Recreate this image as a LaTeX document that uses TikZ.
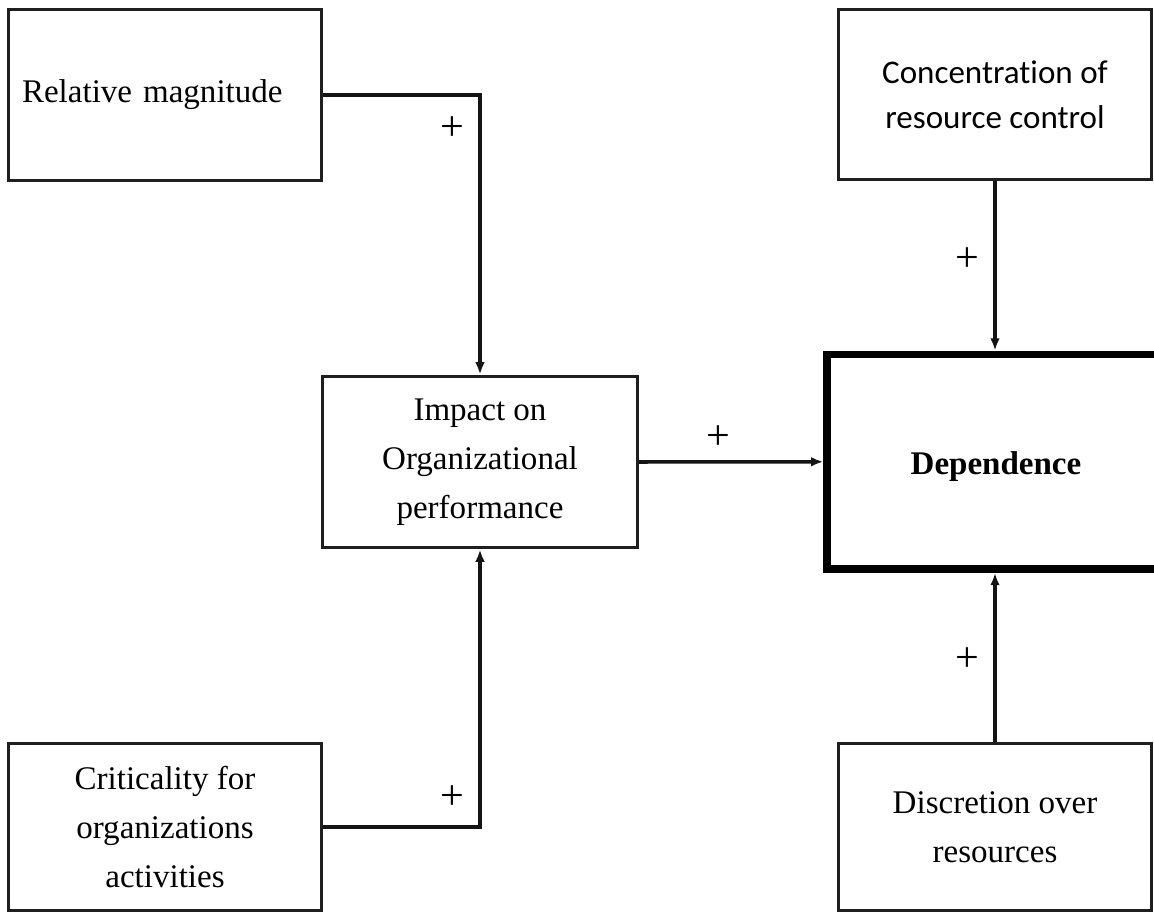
\documentclass[tikz,border=0pt]{standalone}
\usepackage{fontspec}
\setmainfont{Liberation Serif}
\newfontfamily\calibrilike[Ligatures=NoCommon]{Carlito}
\usetikzlibrary{arrows.meta}
\begin{document}
\begin{tikzpicture}[x=0.02cm, y=-0.02cm,
  box/.style={draw=black!88, line width=1.7pt, inner sep=0pt, align=center,
    font=\fontsize{18.8}{28}\selectfont, minimum width=6.28cm, minimum height=3.42cm},
  keybox/.style={draw=black, line width=4.5pt, inner sep=0pt, align=center,
    font=\fontsize{18.8}{28}\selectfont\bfseries, minimum width=6.75cm, minimum height=4.29cm},
  link/.style={draw=black!92, line width=2pt, -{Latex[length=7pt,width=5.5pt]}},
  sign/.style={font=\fontsize{24}{26}\selectfont, inner sep=0pt}]
\useasboundingbox (0,0) rectangle (1154,913);
\clip (0,0) rectangle (1154,913);

% drivers and outcome boxes
\node[box, text width=5.72cm, align=left] (rel) at (165,95) {Relative magnitude};
\node[box, font=\calibrilike\fontsize{18.8}{25.5}\selectfont] (conc) at (995,94.5)
  {Concentration of\\resource control};
\node[box, minimum width=6.3cm, minimum height=3.44cm] (imp) at (480,462)
  {Impact on\\Organizational\\performance};
\node[keybox] (dep) at (996,461.75) {\raisebox{-3pt}[\height][\depth]{Dependence}};
\node[box, minimum height=3.36cm] (crit) at (165,827)
  {Criticality for\\organizations\\activities};
\node[box, minimum height=3.36cm] (disc) at (995,827)
  {Discretion over\\resources};

% causal links
\draw[link] (rel.east) -| (imp.north);
\draw[link] (crit.east) -| (imp.south);
\draw[link] (imp.east) -- (dep.west);
\draw[link] (conc.south) -- (conc.south |- dep.north);
\draw[link] (disc.north) -- (disc.north |- dep.south);

% link signs
\node[sign] (p1) at (452,129) {+};
\node[sign] (p2) at (452,798) {+};
\node[sign] (p3) at (718,438) {+};
\node[sign] (p4) at (967,260) {+};
\node[sign] (p5) at (967,660) {+};
\end{tikzpicture}
\end{document}
